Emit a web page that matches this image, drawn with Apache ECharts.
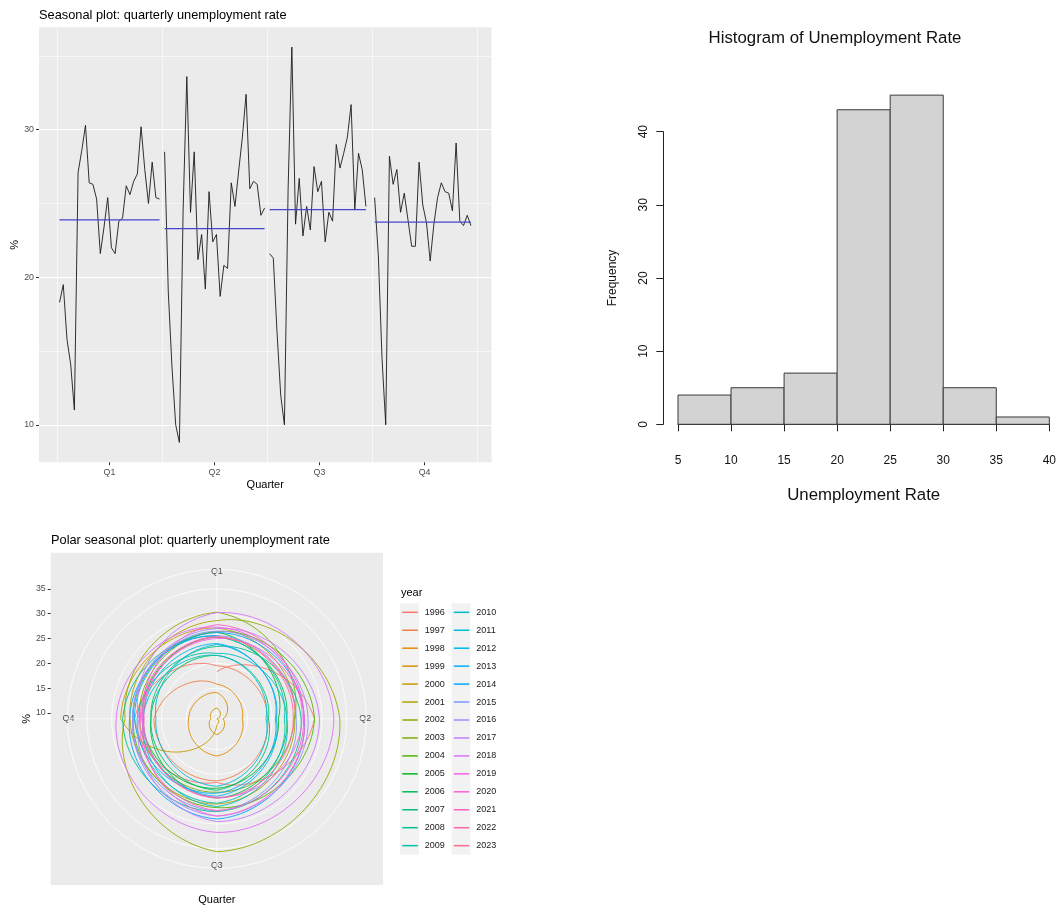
<!DOCTYPE html>
<html>
<head>
<meta charset="utf-8">
<style>
html, body { margin: 0; padding: 0; background: #fff; }
#main { width: 1059px; height: 907px; }
</style>
<script src="https://cdn.jsdelivr.net/npm/echarts@6/dist/echarts.min.js"></script>
</head>
<body>
<div id="main"></div>
<script>
var FONT = '"Liberation Sans", Arial, sans-serif';

// quarterly unemployment rate (%), 1996 Q1 .. 2023 Q2
var quarters = ['Q1', 'Q2', 'Q3', 'Q4'];
var years = [1996, 1997, 1998, 1999, 2000, 2001, 2002, 2003, 2004, 2005, 2006, 2007, 2008, 2009,
             2010, 2011, 2012, 2013, 2014, 2015, 2016, 2017, 2018, 2019, 2020, 2021, 2022, 2023];
var q1Rate = [18.3, 19.5, 15.8, 14.1, 11.0, 27.1, 28.6, 30.3, 26.4, 26.3, 25.3, 21.6, 23.4, 25.4,
              22.0, 21.6, 23.8, 24.0, 26.2, 25.6, 26.5, 27.0, 30.2, 27.3, 25.0, 27.8, 25.4, 25.3];
var q2Rate = [28.5, 19.0, 13.9, 10.0, 8.8, 24.5, 33.6, 24.4, 28.5, 21.2, 22.9, 19.2, 25.8, 22.4,
              22.9, 18.7, 20.8, 20.6, 26.4, 24.8, 27.2, 29.5, 32.4, 26.0, 26.5, 26.3, 24.2, 24.7];
var q3Rate = [21.6, 21.3, 16.3, 12.0, 10.0, 26.0, 35.6, 23.6, 26.7, 22.8, 24.8, 23.2, 27.5, 25.8,
              26.5, 22.4, 24.4, 23.8, 29.0, 27.4, 28.4, 29.5, 31.7, 24.6, 28.4, 27.3, 24.8];
var q4Rate = [25.4, 21.5, 14.5, 10.0, 28.2, 26.3, 27.3, 24.4, 25.7, 23.9, 22.1, 22.1, 27.8, 24.9,
              23.7, 21.1, 23.6, 25.4, 26.4, 25.8, 25.7, 24.5, 29.1, 23.8, 23.5, 24.2, 23.5];
var quarterMeans = [23.89, 23.30, 24.59, 23.73];

// histogram
var histBreaks = [5, 10, 15, 20, 25, 30, 35, 40];
var histCounts = [4, 5, 7, 43, 45, 5, 1];

var quarterRates = [q1Rate, q2Rate, q3Rate, q4Rate];
var allRates = q1Rate.concat(q2Rate, q3Rate, q4Rate);
var rateMin = Math.min.apply(null, allRates);
var rateMax = Math.max.apply(null, allRates);

// subseries x position: season + offset of the year inside the season
var seasonWidth = (years.length - 1) * 1.05;
function subX(q, i) { return q + 1.025 + i / seasonWidth; }
var xLo = subX(0, 0), xHi = subX(3, q4Rate.length - 1);
var xMin = xLo - 0.05 * (xHi - xLo), xMax = xHi + 0.05 * (xHi - xLo);
var yMin = rateMin - 0.05 * (rateMax - rateMin), yMax = rateMax + 0.05 * (rateMax - rateMin);
// polar: data range fills 0..0.4, outer ring at 0.45
var rOuter = rateMax + (rateMax - rateMin) / 8;

// ggplot hue palette
function hcl(h, c, l) {
    var hr = h * Math.PI / 180;
    var u = c * Math.cos(hr), v = c * Math.sin(hr);
    var Xn = 95.047, Yn = 100, Zn = 108.883;
    var Y = l > 8 ? Yn * Math.pow((l + 16) / 116, 3) : Yn * l / 903.3;
    var den = Xn + 15 * Yn + 3 * Zn;
    var un = 4 * Xn / den, vn = 9 * Yn / den;
    var up = u / (13 * l) + un, vp = v / (13 * l) + vn;
    var X = Y * 9 * up / (4 * vp);
    var Z = Y * (12 - 3 * up - 20 * vp) / (4 * vp);
    X /= 100; Y /= 100; Z /= 100;
    var r = 3.2404542 * X - 1.5371385 * Y - 0.4985314 * Z;
    var g = -0.9692660 * X + 1.8760108 * Y + 0.0415560 * Z;
    var b = 0.0556434 * X - 0.2040259 * Y + 1.0572252 * Z;
    function gam(x) {
        x = x <= 0.0031308 ? 12.92 * x : 1.055 * Math.pow(x, 1 / 2.4) - 0.055;
        return Math.round(Math.max(0, Math.min(1, x)) * 255);
    }
    return 'rgb(' + gam(r) + ',' + gam(g) + ',' + gam(b) + ')';
}
function yearColor(i) { return hcl(15 + i * 360 / years.length, 100, 65); }

var series = [];

// seasonal subseries plot
quarterRates.forEach(function (arr, q) {
    series.push({
        type: 'line', xAxisIndex: 0, yAxisIndex: 0, showSymbol: false, silent: true,
        data: arr.map(function (v, i) { return [subX(q, i), v]; }),
        lineStyle: { color: '#1a1a1a', width: 0.9 }
    });
    series.push({
        type: 'line', xAxisIndex: 0, yAxisIndex: 0, showSymbol: false, silent: true, z: 3,
        data: [[subX(q, 0), quarterMeans[q]], [subX(q, arr.length - 1), quarterMeans[q]]],
        itemStyle: { color: '#4646CC' },
        lineStyle: { color: '#4646CC', width: 1.25 }
    });
});

// histogram
series.push({
    type: 'custom', xAxisIndex: 2, yAxisIndex: 2, silent: true, clip: false,
    data: histCounts.map(function (c, i) { return [histBreaks[i], histBreaks[i + 1], c]; }),
    encode: { x: [0, 1], y: 2 },
    renderItem: function (params, api) {
        var p0 = api.coord([api.value(0), 0]);
        var p1 = api.coord([api.value(1), api.value(2)]);
        return {
            type: 'rect',
            shape: { x: p0[0], y: p1[1], width: p1[0] - p0[0], height: p0[1] - p1[1] },
            style: { fill: '#D3D3D3', stroke: '#3a3a3a', lineWidth: 1 }
        };
    }
});

// polar seasonal plot: each year runs Q1..Q4 and on to the next Q1.
// a straight step in (angle, radius) is drawn as a spiral arc, like coord_polar does
function spiralRender(pts, col) {
    return function (params, api) {
        var i = params.dataIndex;
        if (i >= pts.length - 1) return { type: 'group', children: [] };
        var cs = params.coordSys;
        var a1 = pts[i][1], a2 = pts[i + 1][1];
        var P1 = api.coord(pts[i]), P2 = api.coord(pts[i + 1]);
        var r1 = Math.hypot(P1[0] - cs.cx, P1[1] - cs.cy);
        var r2 = Math.hypot(P2[0] - cs.cx, P2[1] - cs.cy);
        var dth = (a2 - a1) * Math.PI / 2;
        var dr = (r2 - r1) / dth;
        function dir(a) {
            var t = a * Math.PI / 2;
            return { ex: Math.sin(t), ey: -Math.cos(t), tx: Math.cos(t), ty: Math.sin(t) };
        }
        var d1 = dir(a1), d2 = dir(a2), k = dth / 3;
        return {
            type: 'bezierCurve',
            shape: {
                x1: P1[0], y1: P1[1], x2: P2[0], y2: P2[1],
                cpx1: P1[0] + k * (dr * d1.ex + r1 * d1.tx),
                cpy1: P1[1] + k * (dr * d1.ey + r1 * d1.ty),
                cpx2: P2[0] - k * (dr * d2.ex + r2 * d2.tx),
                cpy2: P2[1] - k * (dr * d2.ey + r2 * d2.ty)
            },
            style: { stroke: col, fill: null, lineWidth: 0.9 }
        };
    };
}

years.forEach(function (yr, i) {
    var pts = [];
    quarterRates.forEach(function (arr, q) {
        if (i < arr.length) pts.push([arr[i], q]);
    });
    if (i + 1 < q1Rate.length) pts.push([q1Rate[i + 1], 4]);
    var col = yearColor(i);
    series.push({
        name: String(yr), type: 'custom', coordinateSystem: 'polar', polarIndex: 0,
        silent: true, data: pts, encode: { radius: 0, angle: 1 },
        itemStyle: { color: col },
        renderItem: spiralRender(pts, col)
    });
});

var axisText = { color: '#4D4D4D', fontSize: 8.8, fontFamily: FONT };
var hidden = { axisLine: { show: false }, axisTick: { show: false }, axisLabel: { show: false }, splitLine: { show: false } };
function merge(a, b) { var o = {}; for (var k in a) o[k] = a[k]; for (var k2 in b) o[k2] = b[k2]; return o; }

var legendBase = {
    orient: 'vertical', icon: 'rect', itemWidth: 15.5, itemHeight: 1.5, itemGap: 5.95,
    padding: 0, selectedMode: false, top: 606.3, z: 6,
    textStyle: { fontSize: 9, lineHeight: 12, color: '#1a1a1a', fontFamily: FONT, padding: [0, 0, 0, 2] }
};
// grey key boxes behind the legend lines
var keyBase = {
    orient: 'vertical', icon: 'rect', itemWidth: 19, itemHeight: 17.95, itemGap: 0,
    padding: 0, selectedMode: false, top: 603.3, z: 5,
    itemStyle: { color: '#F2F2F2' },
    textStyle: { fontSize: 9, color: 'rgba(0,0,0,0)' }
};

var option = {
    animation: false,
    backgroundColor: '#fff',
    textStyle: { fontFamily: FONT },
    title: [
        { text: 'Seasonal plot: quarterly unemployment rate', left: 39, top: 8.5, padding: 0,
          textStyle: { fontSize: 12.8, fontWeight: 'normal', color: '#000', fontFamily: FONT } },
        { text: 'Histogram of Unemployment Rate', left: 835, textAlign: 'center', top: 29.5, padding: 0,
          textStyle: { fontSize: 16.8, fontWeight: 'normal', color: '#111', fontFamily: FONT } },
        { text: 'Polar seasonal plot: quarterly unemployment rate', left: 51, top: 533.5, padding: 0,
          textStyle: { fontSize: 12.8, fontWeight: 'normal', color: '#000', fontFamily: FONT } },
        { text: 'year', left: 401, top: 587.5, padding: 0,
          textStyle: { fontSize: 11, fontWeight: 'normal', color: '#000', fontFamily: FONT } }
    ],
    legend: [
        merge(keyBase, { left: 400, data: years.slice(0, 14).map(String) }),
        merge(keyBase, { left: 451.5, data: years.slice(14).map(String) }),
        merge(legendBase, { left: 402.3, data: years.slice(0, 14).map(String) }),
        merge(legendBase, { left: 453.8, data: years.slice(14).map(String) })
    ],
    grid: [
        { left: 39, top: 27.3, width: 452.5, height: 435, show: true, backgroundColor: '#EBEBEB', borderWidth: 0, z: -1 },
        { left: 678, top: 131.7, width: 372, height: 292.6 },
        { left: 50.7, top: 552.7, width: 332.3, height: 332.3, show: true, backgroundColor: '#EBEBEB', borderWidth: 0, z: -1 },
        { left: 50.7, top: 718.85 - 149.5, width: 332.3, height: 149.5 }
    ],
    xAxis: [
        {
            gridIndex: 0, type: 'value', min: xMin, max: xMax,
            name: 'Quarter', nameLocation: 'middle', nameGap: 17,
            nameTextStyle: { fontSize: 11, color: '#000', fontFamily: FONT },
            axisLine: { show: false },
            axisTick: { show: true, length: 3, lineStyle: { color: '#333', width: 1 }, customValues: [1.5, 2.5, 3.5, 4.5] },
            axisLabel: merge(axisText, { margin: 6, customValues: [1.5, 2.5, 3.5, 4.5],
                formatter: function (v) { return quarters[Math.round(v - 1.5)]; } }),
            splitLine: { show: false }
        },
        {
            gridIndex: 0, type: 'value', min: xMin, max: xMax,
            axisLine: { show: false }, axisLabel: { show: false },
            axisTick: { show: false, customValues: [1, 2, 3, 4, 5] },
            splitLine: { show: true, lineStyle: { color: '#fff', width: 0.6 } }
        },
        {
            gridIndex: 1, type: 'value', min: 5, max: 40, interval: 5, offset: 12.4,
            name: 'Unemployment Rate', nameLocation: 'middle', nameGap: 50,
            nameTextStyle: { fontSize: 16.8, color: '#111', fontFamily: FONT },
            axisLine: { show: true, lineStyle: { color: '#222', width: 1 } },
            axisTick: { show: true, length: 7, lineStyle: { color: '#222', width: 1 } },
            axisLabel: { fontSize: 12, color: '#111', margin: 18, fontFamily: FONT },
            splitLine: { show: false }
        },
        merge(hidden, {
            gridIndex: 2, type: 'value', min: 0, max: 1,
            name: 'Quarter', nameLocation: 'middle', nameGap: 9,
            nameTextStyle: { fontSize: 11, color: '#000', fontFamily: FONT }
        }),
        { gridIndex: 3, type: 'value', min: 0, max: 1, show: false }
    ],
    yAxis: [
        {
            gridIndex: 0, type: 'value', min: yMin, max: yMax,
            name: '%', nameLocation: 'middle', nameGap: 18.5,
            nameTextStyle: { fontSize: 11, color: '#000', fontFamily: FONT },
            axisLine: { show: false },
            axisTick: { show: true, length: 3, lineStyle: { color: '#333', width: 1 }, customValues: [10, 20, 30] },
            axisLabel: merge(axisText, { margin: 5, customValues: [10, 20, 30] }),
            splitLine: { show: true, lineStyle: { color: '#fff', width: 1.1 } }
        },
        {
            gridIndex: 0, type: 'value', min: yMin, max: yMax,
            axisLine: { show: false }, axisLabel: { show: false },
            axisTick: { show: false, customValues: [15, 25, 35] },
            splitLine: { show: true, lineStyle: { color: '#fff', width: 0.55 } }
        },
        {
            gridIndex: 1, type: 'value', min: 0, max: 40, interval: 10, offset: 14.7,
            name: 'Frequency', nameLocation: 'middle', nameGap: 44.6,
            nameTextStyle: { fontSize: 12, color: '#111', fontFamily: FONT },
            axisLine: { show: true, lineStyle: { color: '#222', width: 1 } },
            axisTick: { show: true, length: 7, lineStyle: { color: '#222', width: 1 } },
            axisLabel: { fontSize: 12, color: '#111', margin: 14, rotate: 90, fontFamily: FONT },
            splitLine: { show: false }
        },
        merge(hidden, {
            gridIndex: 2, type: 'value', min: 0, max: 1,
            name: '%', nameLocation: 'middle', nameGap: 18.5,
            nameTextStyle: { fontSize: 11, color: '#000', fontFamily: FONT }
        }),
        {
            gridIndex: 3, type: 'value', min: rateMin, max: rOuter,
            axisLine: { show: false },
            axisTick: { show: true, length: 3, lineStyle: { color: '#333', width: 1 }, customValues: [10, 15, 20, 25, 30, 35] },
            axisLabel: merge(axisText, { margin: 5, customValues: [10, 15, 20, 25, 30, 35] }),
            splitLine: { show: false }
        }
    ],
    polar: { center: [216.85, 718.85], radius: 149.5 },
    angleAxis: {
        type: 'value', min: 0, max: 4, interval: 1, startAngle: 90, clockwise: true,
        axisLine: { show: false }, axisTick: { show: false },
        axisLabel: merge(axisText, { margin: -7, formatter: function (v) { return quarters[v] || ''; } }),
        splitLine: { show: true, lineStyle: { color: '#fff', width: 0.8 } }
    },
    radiusAxis: {
        type: 'value', min: rateMin, max: rOuter,
        axisLine: { show: false }, axisLabel: { show: false },
        axisTick: { show: false, customValues: [10, 15, 20, 25, 30, 35, rOuter] },
        splitLine: { show: true, lineStyle: { color: '#fff', width: 0.8 } }
    },
    series: series
};

var chart = echarts.init(document.getElementById('main'));
chart.setOption(option);
</script>
</body>
</html>
